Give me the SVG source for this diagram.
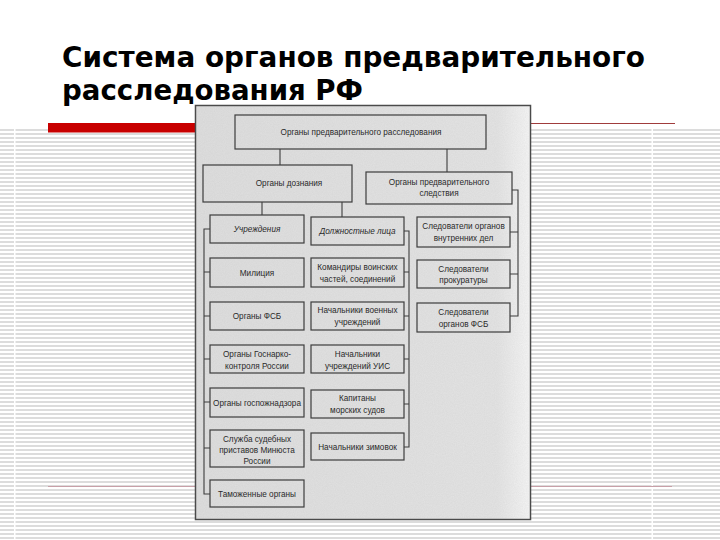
<svg xmlns="http://www.w3.org/2000/svg" width="720" height="540" viewBox="0 0 720 540">
<defs>
<pattern id="stripes" patternUnits="userSpaceOnUse" x="0" y="129" width="720" height="4">
<rect x="0" y="0" width="720" height="2" fill="#dcdcdc"/>
</pattern>
<linearGradient id="scanbg" x1="0" y1="0" x2="1" y2="0">
<stop offset="0" stop-color="#dedede"/>
<stop offset="0.9" stop-color="#e4e4e4"/>
<stop offset="1" stop-color="#f6f6f6"/>
</linearGradient>
<filter id="grain" x="0" y="0" width="1" height="1">
<feTurbulence type="fractalNoise" baseFrequency="0.9" numOctaves="2" seed="3"/>
<feColorMatrix type="matrix" values="0 0 0 0 0.4  0 0 0 0 0.4  0 0 0 0 0.4  0 0 0 0.35 0"/>
</filter>
<style>
.title{font-family:"DejaVu Sans",Verdana,sans-serif;font-weight:bold;font-size:27.5px;fill:#000}
.box{fill:none;stroke:#3c3c3c;stroke-width:1.2}
.ln{fill:none;stroke:#3c3c3c;stroke-width:1.1}
.t{font-family:"Liberation Sans",Arial,sans-serif;font-size:8.2px;fill:#2a2a2a;text-anchor:middle}
.i{font-style:italic}
</style>
</defs>
<rect width="720" height="540" fill="#ffffff"/>
<rect x="0" y="129" width="720" height="411" fill="url(#stripes)"/>
<rect x="14" y="129" width="1.5" height="411" fill="#ffffff"/>
<rect x="651.5" y="129" width="1.5" height="411" fill="#ffffff"/>
<rect x="48" y="123" width="150" height="9.5" fill="#c80000"/>
<line x1="528" y1="123.5" x2="675" y2="123.5" stroke="#a03c3c" stroke-width="1"/>
<line x1="48" y1="486.5" x2="672" y2="486.5" stroke="#c8a0a8" stroke-width="1"/>
<text class="title" x="62" y="67" textLength="583" lengthAdjust="spacingAndGlyphs">Система органов предварительного</text>
<text class="title" x="62" y="100" textLength="301" lengthAdjust="spacingAndGlyphs">расследования РФ</text>
<g id="scan">
<rect x="195.5" y="105.5" width="335" height="414" fill="url(#scanbg)" stroke="#4a4a4a" stroke-width="1.5"/>
<rect x="197" y="107" width="332" height="411" filter="url(#grain)" opacity="0.5"/>
</g>
<g id="connectors">
<line class="ln" x1="280" y1="149" x2="280" y2="165"/>
<line class="ln" x1="447" y1="149" x2="447" y2="172"/>
<line class="ln" x1="262" y1="202" x2="262" y2="215"/>
<line class="ln" x1="342" y1="202" x2="342" y2="217"/>
<path class="ln" d="M210 229 H204 V494 H210 M204 272 H210 M204 316 H210 M204 359 H210 M204 402 H210 M204 448 H210"/>
<path class="ln" d="M404 231 H409 V447 H404 M404 272 H409 M404 316 H409 M404 359 H409 M404 404 H409"/>
<path class="ln" d="M512 190 H518 V316 H510 M510 232 H518 M510 274 H518"/>
</g>
<g id="n-root"><rect class="box" x="235" y="115" width="251" height="34"/><text class="t" x="361" y="135">Органы предварительного расследования</text></g>
<g id="n-doznanie"><rect class="box" x="203" y="165" width="149" height="37"/><text class="t" x="289" y="186">Органы дознания</text></g>
<g id="n-sledstvie"><rect class="box" x="366" y="172" width="146" height="32"/><text class="t" x="439" y="185">Органы предварительного</text><text class="t" x="439" y="196">следствия</text></g>
<g id="n-uchr"><rect class="box" x="210" y="215" width="94" height="28"/><text class="t i" x="257" y="232">Учреждения</text></g>
<g id="n-milicia"><rect class="box" x="210" y="258" width="94" height="29"/><text class="t" x="257" y="275.5">Милиция</text></g>
<g id="n-fsb"><rect class="box" x="210" y="302" width="94" height="28"/><text class="t" x="257" y="319">Органы ФСБ</text></g>
<g id="n-gnk"><rect class="box" x="210" y="345" width="94" height="28"/><text class="t" x="257" y="357">Органы Госнарко-</text><text class="t" x="257" y="368.5">контроля России</text></g>
<g id="n-gpn"><rect class="box" x="210" y="388" width="94" height="29"/><text class="t" x="257" y="405.5">Органы госпожнадзора</text></g>
<g id="n-fssp"><rect class="box" x="210" y="430" width="94" height="37"/><text class="t" x="257" y="442">Служба судебных</text><text class="t" x="257" y="453">приставов Минюста</text><text class="t" x="257" y="464">России</text></g>
<g id="n-tam"><rect class="box" x="210" y="480" width="94" height="27"/><text class="t" x="257" y="496.5">Таможенные органы</text></g>
<g id="n-dl"><rect class="box" x="311" y="217" width="93" height="28"/><text class="t i" x="357.5" y="234">Должностные лица</text></g>
<g id="n-kom"><rect class="box" x="311" y="258" width="93" height="29"/><text class="t" x="357.5" y="270">Командиры воинских</text><text class="t" x="357.5" y="281.5">частей, соединений</text></g>
<g id="n-nvu"><rect class="box" x="311" y="302" width="93" height="28"/><text class="t" x="357.5" y="313">Начальники военных</text><text class="t" x="357.5" y="324.5">учреждений</text></g>
<g id="n-uis"><rect class="box" x="311" y="345" width="93" height="28"/><text class="t" x="357.5" y="357">Начальники</text><text class="t" x="357.5" y="368.5">учреждений УИС</text></g>
<g id="n-kap"><rect class="box" x="311" y="390" width="93" height="28"/><text class="t" x="357.5" y="401">Капитаны</text><text class="t" x="357.5" y="412.5">морских судов</text></g>
<g id="n-zim"><rect class="box" x="311" y="433" width="93" height="27"/><text class="t" x="357.5" y="449.5">Начальники зимовок</text></g>
<g id="n-mvd"><rect class="box" x="417" y="217" width="93" height="30"/><text class="t" x="463.5" y="229">Следователи органов</text><text class="t" x="463.5" y="241">внутренних дел</text></g>
<g id="n-prok"><rect class="box" x="417" y="260" width="93" height="28"/><text class="t" x="463.5" y="271.5">Следователи</text><text class="t" x="463.5" y="283">прокуратуры</text></g>
<g id="n-sfsb"><rect class="box" x="417" y="303" width="93" height="29"/><text class="t" x="463.5" y="315">Следователи</text><text class="t" x="463.5" y="326.5">органов ФСБ</text></g>
</svg>
